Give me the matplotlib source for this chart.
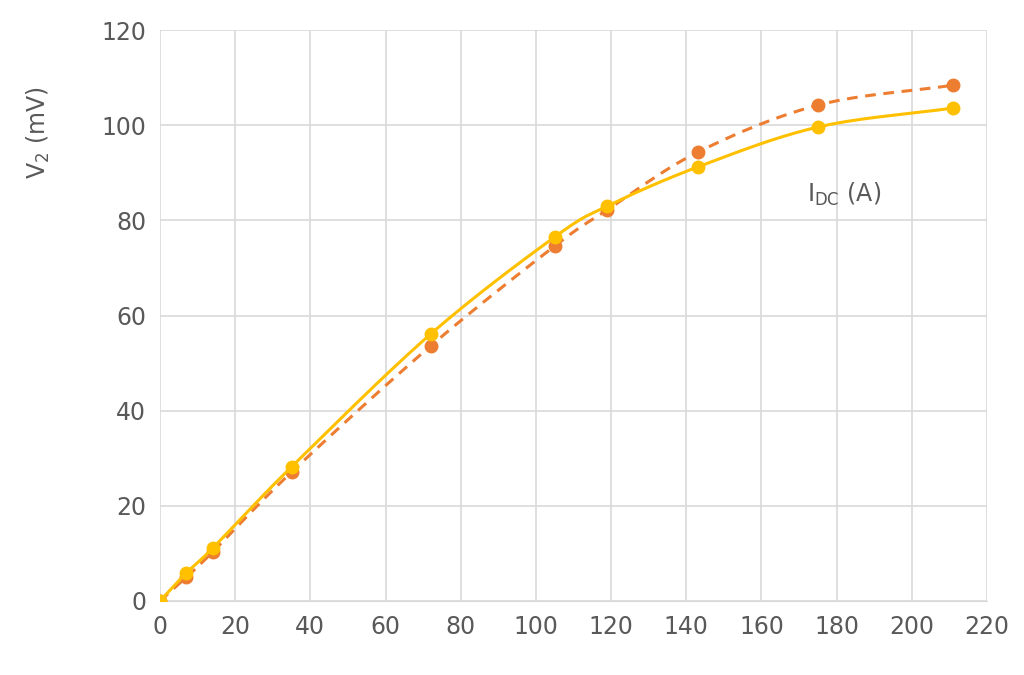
import numpy as np
import matplotlib.pyplot as plt

current = [0, 7, 14, 35, 72, 105, 119, 143, 175, 211]
v2_orange = [0, 5.0, 10.3, 27.1, 53.6, 74.6, 82.2, 94.3, 104.2, 108.4]
v2_yellow = [0, 5.9, 11.1, 28.2, 56.1, 76.5, 83.0, 91.2, 99.6, 103.6]


def smooth(x, y, n=30):
    # Catmull-Rom style curve through the points, similar to Excel smoothing
    x = np.asarray(x, float)
    y = np.asarray(y, float)
    px = np.concatenate([[2 * x[0] - x[1]], x, [2 * x[-1] - x[-2]]])
    py = np.concatenate([[2 * y[0] - y[1]], y, [2 * y[-1] - y[-2]]])
    xs, ys = [], []
    t = np.linspace(0, 1, n)
    for i in range(1, len(px) - 2):
        for arr, out in ((px, xs), (py, ys)):
            p0, p1, p2, p3 = arr[i - 1], arr[i], arr[i + 1], arr[i + 2]
            out.extend(0.5 * (2 * p1 + (-p0 + p2) * t + (2 * p0 - 5 * p1 + 4 * p2 - p3) * t**2
                              + (-p0 + 3 * p1 - 3 * p2 + p3) * t**3))
    return xs, ys


grey = "#595959"
fig = plt.figure(figsize=(10.24, 6.75), dpi=100)
ax = fig.add_axes([160 / 1024, 1 - 601 / 675, (987 - 160) / 1024, (601 - 30) / 675])

xo, yo = smooth(current, v2_orange)
ax.plot(xo, yo, color="#ED7D31", lw=2.2, ls=(0, (3.5, 2.5)), zorder=3)
ax.plot(current, v2_orange, "o", color="#ED7D31", ms=9, zorder=4)
xy, yy = smooth(current, v2_yellow)
ax.plot(xy, yy, color="#FFC000", lw=2.2, zorder=5)
ax.plot(current, v2_yellow, "o", color="#FFC000", ms=9, zorder=6)

ax.set_xlim(0, 220)
ax.set_ylim(0, 120)
ax.set_xticks(range(0, 221, 20))
ax.set_yticks(range(0, 121, 20))
ax.grid(True, color="#D9D9D9", lw=1.2)
ax.set_axisbelow(True)
for s in ["top", "right", "left"]:
    ax.spines[s].set_visible(False)
ax.spines["bottom"].set_color("#D9D9D9")
ax.tick_params(length=0, labelsize=17, labelcolor=grey, pad=10)
ax.set_ylabel("V$_\\mathrm{2}$ (mV)", fontsize=17, color=grey)
ax.yaxis.set_label_coords(-0.13, 0.82)
ax.text(172, 84, "I$_\\mathrm{DC}$ (A)", fontsize=17, color=grey)

fig.savefig("out.png")
